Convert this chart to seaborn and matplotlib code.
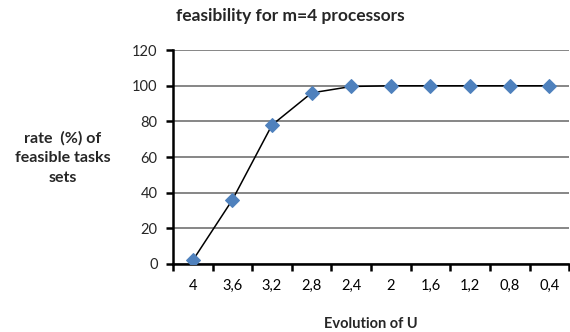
import matplotlib
matplotlib.use("Agg")
import matplotlib.pyplot as plt
import seaborn as sns
import pandas as pd

u_labels = ["4", "3,6", "3,2", "2,8", "2,4", "2", "1,6", "1,2", "0,8", "0,4"]
rates = [2, 36, 78, 96, 99.6, 100, 100, 100, 100, 100]
y_ticks = [0, 20, 40, 60, 80, 100, 120]

sns.set_theme(style="white")
plt.rcParams["font.family"] = ["Lato", "DejaVu Sans"]

df = pd.DataFrame({"U": u_labels, "rate": rates})

fig = plt.figure(figsize=(5.70, 3.32), dpi=100)
ax = fig.add_axes([0.3035, 0.205, 0.695, 0.644])

sns.lineplot(data=df, x="U", y="rate", sort=False, ax=ax, color="black",
             linewidth=1.1, marker="D", markersize=7,
             markerfacecolor="#4F81BD", markeredgecolor="#4F81BD", zorder=3)

ax.set_xlim(-0.5, len(u_labels) - 0.5)
ax.set_ylim(0, 120)
ax.set_yticks(y_ticks)
ax.set_xticks(range(len(u_labels)))
ax.set_xticklabels(u_labels)
ax.set_xticks([i - 0.5 for i in range(len(u_labels) + 1)], minor=True)

ax.yaxis.grid(True, color="#868686", linewidth=1.4)
ax.set_axisbelow(True)
for s in ["top", "right"]:
    ax.spines[s].set_visible(False)
for s in ["left", "bottom"]:
    ax.spines[s].set_color("black")
    ax.spines[s].set_linewidth(1.8)

ax.tick_params(axis="x", which="major", length=0, pad=11, labelsize=10.5, colors="black")
ax.tick_params(axis="x", which="minor", length=5, width=1.8, color="black", bottom=True)
ax.tick_params(axis="y", which="major", length=5, width=1.8, color="black", left=True,
               labelsize=10.5, pad=6)

ax.set_xlabel("Evolution of U", fontsize=10.5, fontweight="bold", labelpad=17)
ax.set_ylabel("")
fig.text(63 / 570, 1 - 158 / 332, "rate  (%) of\nfeasible tasks\nsets", ha="center",
         va="center", fontsize=11.5, fontweight="bold", linespacing=1.55)
fig.text(290 / 570, 1 - 16 / 332, "feasibility for m=4 processors", ha="center",
         va="center", fontsize=12.5, fontweight="bold")

fig.savefig("out.png", dpi=100)
